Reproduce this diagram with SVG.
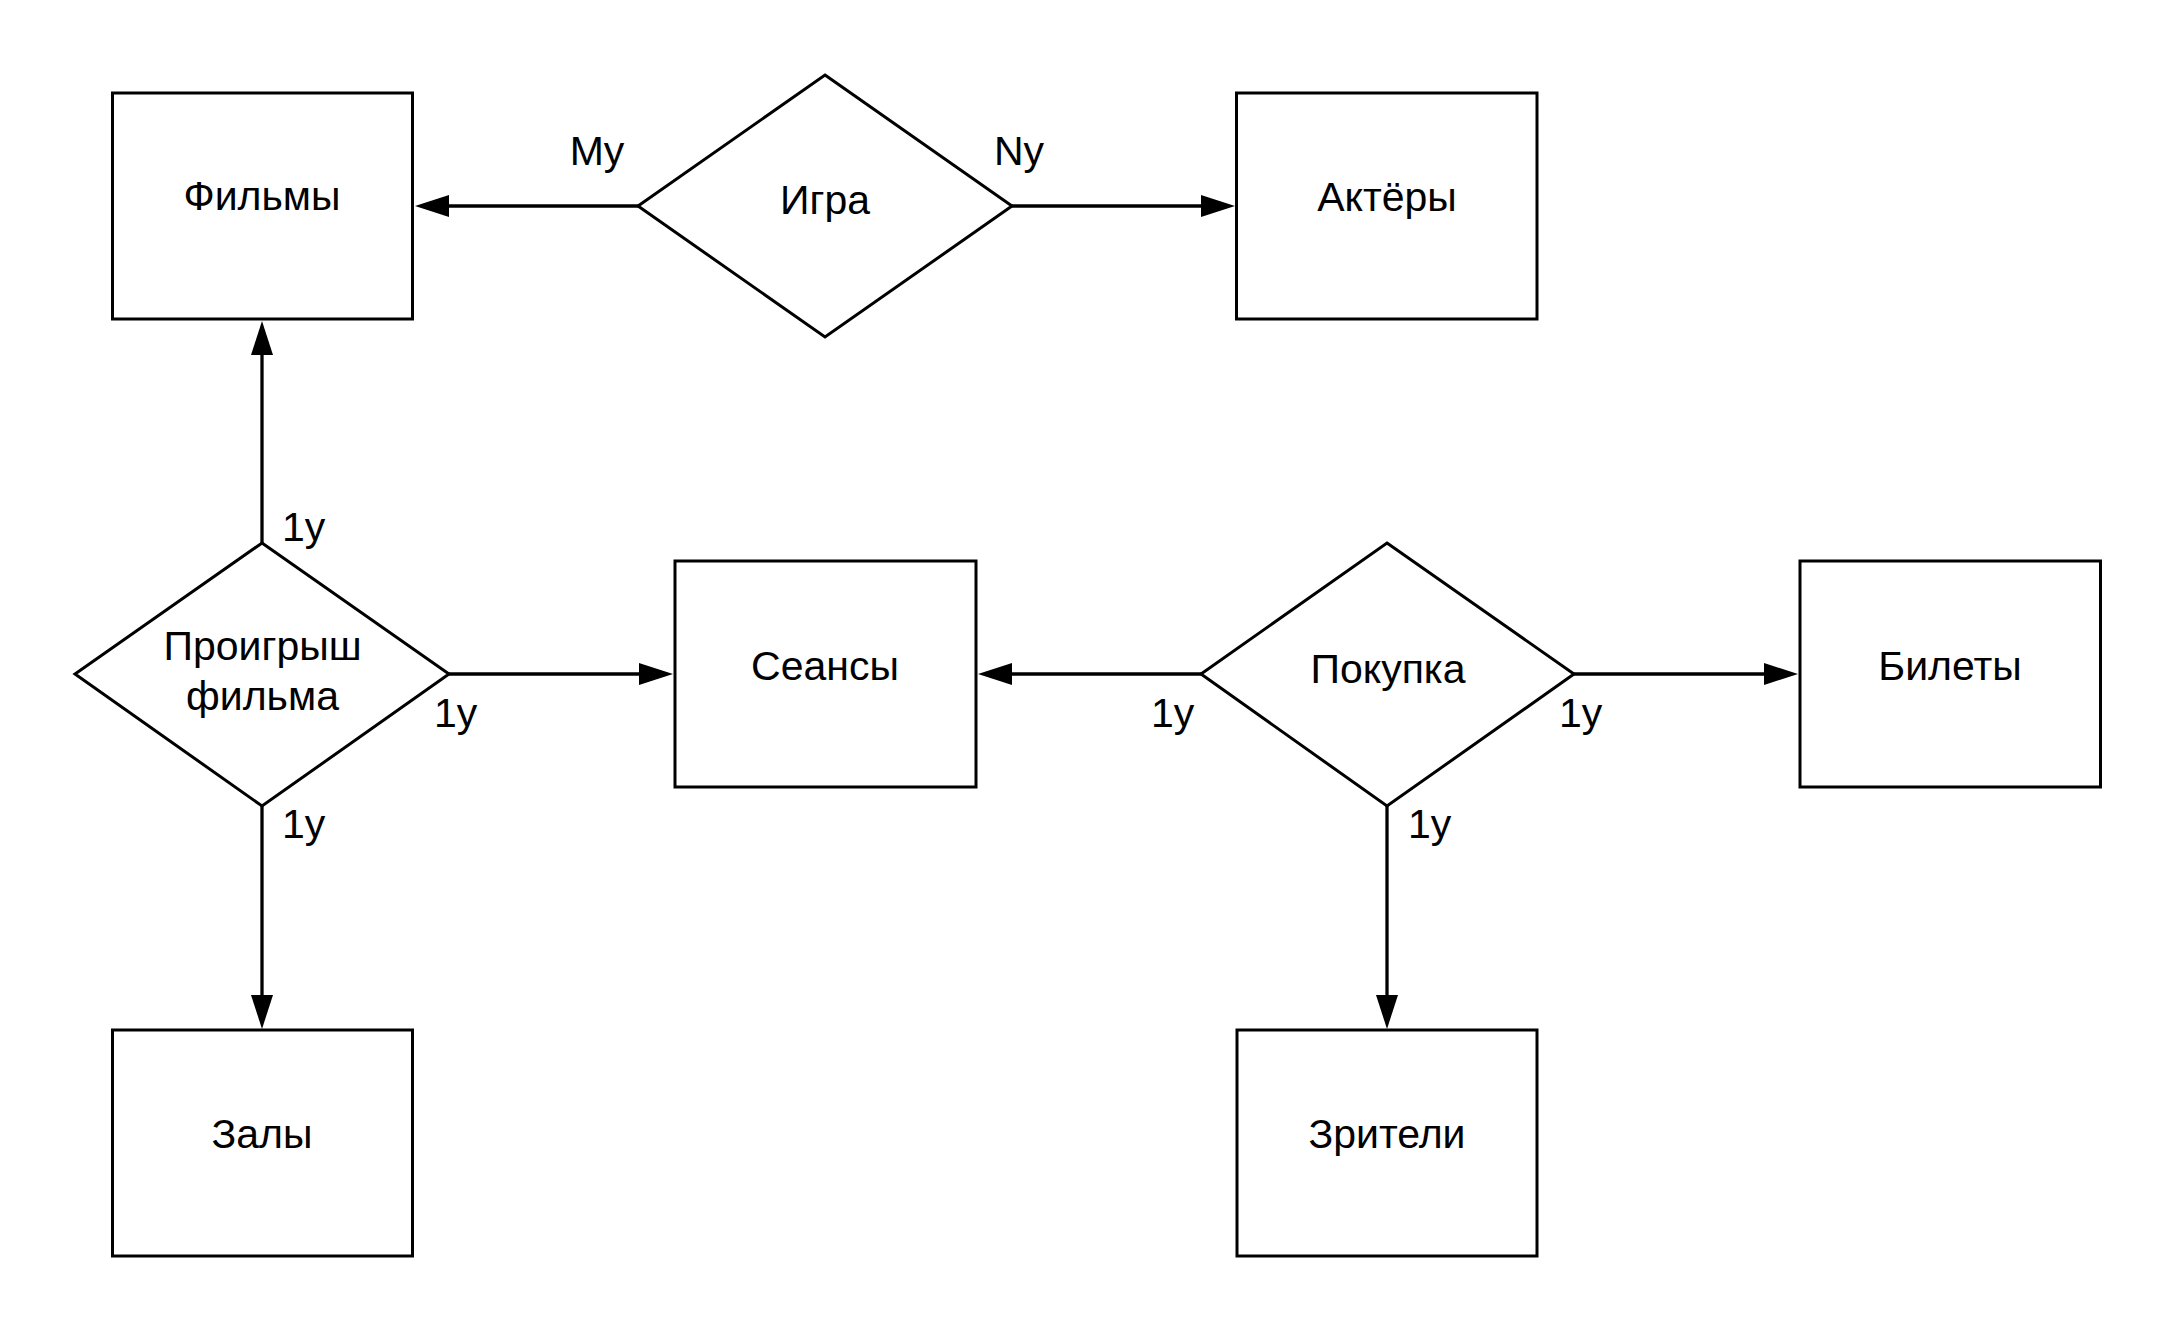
<svg xmlns="http://www.w3.org/2000/svg" width="2175" height="1331" viewBox="0 0 2175 1331">
<style>
.box{fill:#fff;stroke:#000;stroke-width:3}
.conn{fill:none;stroke:#000;stroke-width:3.3}
.t{font-family:"Liberation Sans",Arial,sans-serif;font-size:41px;fill:#000;text-anchor:middle}
.lbl{font-family:"Liberation Sans",Arial,sans-serif;font-size:41px;fill:#000}
</style>
<defs>
<marker id="arr" markerUnits="userSpaceOnUse" markerWidth="34" markerHeight="22" refX="24" refY="11" orient="auto" viewBox="0 0 34 22">
<path d="M0,0 L34,11 L0,22 Z" fill="#000"/>
</marker>
</defs>
<g id="connectors">
<path class="conn" d="M638,206 H425" marker-end="url(#arr)"/>
<path class="conn" d="M1012,206 H1225" marker-end="url(#arr)"/>
<path class="conn" d="M262,543 V331" marker-end="url(#arr)"/>
<path class="conn" d="M449,674 H663" marker-end="url(#arr)"/>
<path class="conn" d="M262,806 V1019" marker-end="url(#arr)"/>
<path class="conn" d="M1201,674 H988" marker-end="url(#arr)"/>
<path class="conn" d="M1574,674 H1788" marker-end="url(#arr)"/>
<path class="conn" d="M1387,806 V1019" marker-end="url(#arr)"/>
</g>
<g id="films"><rect class="box" x="112.5" y="93" width="300" height="226"/><text class="t" x="262" y="210">Фильмы</text></g>
<g id="actors"><rect class="box" x="1236.5" y="93" width="300.5" height="226"/><text class="t" x="1387" y="211">Актёры</text></g>
<g id="sessions"><rect class="box" x="675" y="561" width="301" height="226"/><text class="t" x="825" y="680">Сеансы</text></g>
<g id="tickets"><rect class="box" x="1800" y="561" width="300.5" height="226"/><text class="t" x="1950" y="680">Билеты</text></g>
<g id="halls"><rect class="box" x="112.5" y="1030" width="300" height="226"/><text class="t" x="262" y="1148">Залы</text></g>
<g id="viewers"><rect class="box" x="1237" y="1030" width="300" height="226"/><text class="t" x="1387" y="1148">Зрители</text></g>
<g id="play"><polygon class="box" points="825,75 1012,206 825,337 638,206"/><text class="t" x="825" y="214">Игра</text></g>
<g id="screening"><polygon class="box" points="262,543 449,674 262,806 75,674"/><text class="t" x="262.5" y="660">Проигрыш</text><text class="t" x="262.5" y="710">фильма</text></g>
<g id="purchase"><polygon class="box" points="1387,543 1574,674 1387,806 1201,674"/><text class="t" x="1388" y="683">Покупка</text></g>
<g id="labels">
<text class="lbl" x="597" y="165" text-anchor="middle">My</text>
<text class="lbl" x="1019" y="165" text-anchor="middle">Ny</text>
<text class="lbl" x="282" y="541">1y</text>
<text class="lbl" x="434" y="727">1y</text>
<text class="lbl" x="282" y="838">1y</text>
<text class="lbl" x="1151" y="727">1y</text>
<text class="lbl" x="1559" y="727">1y</text>
<text class="lbl" x="1408" y="838">1y</text>
</g>
</svg>
